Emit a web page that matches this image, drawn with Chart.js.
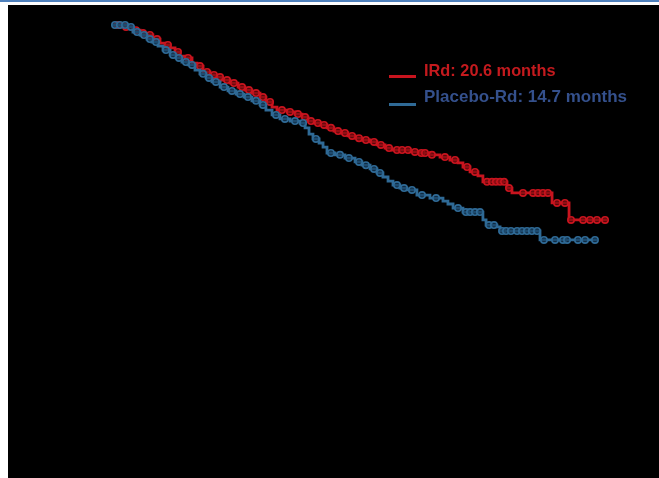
<!DOCTYPE html>
<html>
<head>
<meta charset="utf-8">
<script src="https://cdn.jsdelivr.net/npm/chart.js@4/dist/chart.umd.min.js"></script>
<style>
  html, body { margin: 0; padding: 0; background: #ffffff; }
  #wrap { position: relative; width: 659px; height: 478px; overflow: hidden; }
  #topRule { position: absolute; left: 0; top: 0; width: 659px; height: 2px; background: #4f81bd; }
  #panel { position: absolute; left: 8px; top: 5px; width: 651px; height: 473px; background: #000000; }
  #km { position: absolute; left: 0; top: 0; }
  .key { position: absolute; left: 424px; font-family: "Liberation Sans", Arial, sans-serif; font-weight: bold;
         font-size: 16.5px; line-height: 18px; white-space: nowrap; transform-origin: 0 0; }
  .swatch { position: absolute; left: 389px; width: 27px; height: 3px; }
</style>
</head>
<body>
<div id="wrap">
  <div id="topRule"></div>
  <div id="panel"></div>
  <canvas id="km" width="659" height="478"></canvas>
  <div class="swatch" style="top:75px;background:#c8141e;"></div>
  <div class="key" style="top:61px;color:#c41a1e;transform:scaleX(0.99);">IRd: 20.6 months</div>
  <div class="swatch" style="top:103px;background:#2f6a96;"></div>
  <div class="key" style="top:87px;color:#34508c;transform:scaleX(1.03);">Placebo-Rd: 14.7 months</div>
</div>
<script>
// Kaplan-Meier estimates: time in months, probability after each event.
const irdTimes = [0, 0.79, 1.27, 1.70, 2.06, 2.48, 2.91, 3.21, 3.52, 3.82, 4.12, 4.42, 4.85, 5.15, 5.52,
  5.94, 6.30, 6.67, 7.15, 7.64, 8.06, 8.48, 8.97, 9.33, 9.70, 10.00, 10.61, 11.09, 11.52, 11.88, 12.24,
  12.61, 13.03, 13.45, 13.88, 14.30, 14.73, 15.15, 15.64, 16.06, 16.55, 16.97, 18.06, 18.67, 19.27,
  19.88, 20.48, 20.97, 21.27, 21.70, 22.18, 22.48, 23.94, 24.24, 26.67, 27.70, 30.00];
const irdSurv = [1.000, 0.993, 0.981, 0.970, 0.963, 0.948, 0.933, 0.926, 0.915, 0.900, 0.885, 0.878,
  0.859, 0.848, 0.826, 0.815, 0.807, 0.796, 0.785, 0.770, 0.759, 0.748, 0.733, 0.715, 0.696, 0.685,
  0.678, 0.670, 0.659, 0.644, 0.637, 0.630, 0.619, 0.607, 0.600, 0.589, 0.581, 0.574, 0.567, 0.556,
  0.544, 0.537, 0.530, 0.526, 0.519, 0.511, 0.500, 0.489, 0.474, 0.456, 0.441, 0.419, 0.396, 0.378,
  0.341, 0.278, 0.278];
const irdCensored = [0.36, 0.85, 1.45, 1.88, 2.30, 2.73, 3.39, 4.00, 4.61, 5.33, 5.76, 6.18, 6.55, 6.97,
  7.39, 7.88, 8.30, 8.73, 9.15, 9.58, 10.30, 10.79, 11.27, 11.70, 12.06, 12.48, 12.85, 13.27, 13.70,
  14.12, 14.55, 14.97, 15.39, 15.88, 16.30, 16.79, 17.27, 17.58, 17.94, 18.36, 18.75, 18.97, 19.39,
  20.18, 20.79, 21.52, 22.00, 22.73, 23.03, 23.27, 23.52, 23.76, 24.06, 24.91, 25.52, 25.82, 26.12,
  26.42, 26.97, 27.45, 27.82, 28.55, 28.97, 29.39, 29.88];

const placeboTimes = [0, 0.97, 1.27, 1.70, 2.12, 2.42, 2.79, 3.09, 3.52, 3.88, 4.24, 4.61, 5.03, 5.33,
  5.70, 6.06, 6.55, 7.03, 7.52, 8.00, 8.48, 8.97, 9.33, 9.70, 10.18, 10.79, 11.39, 11.70, 11.94, 12.18,
  12.55, 12.79, 13.03, 13.52, 14.12, 14.73, 15.15, 15.64, 16.06, 16.42, 16.73, 17.03, 17.45, 17.88,
  18.48, 19.27, 20.06, 20.36, 20.67, 21.27, 22.48, 22.67, 23.33, 23.52, 25.94, 29.39];
const placeboSurv = [1.000, 0.993, 0.974, 0.963, 0.948, 0.937, 0.922, 0.907, 0.889, 0.878, 0.863,
  0.852, 0.833, 0.819, 0.804, 0.789, 0.770, 0.756, 0.744, 0.733, 0.719, 0.704, 0.685, 0.667, 0.652,
  0.644, 0.637, 0.619, 0.596, 0.578, 0.563, 0.548, 0.526, 0.519, 0.507, 0.493, 0.481, 0.467, 0.452,
  0.437, 0.422, 0.407, 0.396, 0.389, 0.370, 0.359, 0.348, 0.337, 0.322, 0.307, 0.278, 0.259, 0.252,
  0.237, 0.204, 0.204];
const placeboCensored = [0.18, 0.48, 0.79, 1.15, 1.52, 1.94, 2.30, 2.67, 3.27, 3.70, 4.06, 4.48, 4.85,
  5.52, 5.88, 6.30, 6.79, 7.27, 7.76, 8.24, 8.73, 9.15, 9.94, 10.48, 11.09, 11.58, 12.36, 13.27, 13.82,
  14.36, 14.97, 15.39, 15.88, 16.24, 17.27, 17.70, 18.18, 18.79, 19.64, 20.97, 21.45, 21.70, 22.00,
  22.30, 22.85, 23.15, 23.64, 23.88, 24.18, 24.55, 24.85, 25.15, 25.45, 25.76, 26.18, 26.85, 27.33,
  27.58, 28.24, 28.67, 29.27];

const RED = '#c8141e';
const BLUE = '#2f6a96';

function curvePoints(times, surv) {
  return times.map((t, i) => ({ x: t, y: surv[i] }));
}
// A censored patient sits on the curve at the estimate in force at that time.
function estimateAt(times, surv, t) {
  let s = surv[0];
  for (let i = 0; i < times.length; i++) if (times[i] <= t) s = surv[i];
  return s;
}
function censorPoints(times, surv, cens) {
  return cens.map(t => ({ x: t, y: estimateAt(times, surv, t) }));
}

const stepStyle = (color, order) => ({
  borderColor: color, borderWidth: 2.8, stepped: true, pointRadius: 0,
  fill: false, clip: false, order
});
const markStyle = (color, fillColor, order) => ({
  showLine: false, pointStyle: 'circle', pointRadius: 3.2, pointBorderWidth: 1.6,
  pointBorderColor: color, pointBackgroundColor: fillColor, clip: false, order
});

new Chart(document.getElementById('km'), {
  type: 'line',
  data: {
    datasets: [
      Object.assign({ label: 'IRd', data: curvePoints(irdTimes, irdSurv) }, stepStyle(RED, 3)),
      Object.assign({ label: 'IRd censored', data: censorPoints(irdTimes, irdSurv, irdCensored) },
        markStyle(RED, 'rgba(110,10,14,0.6)', 2)),
      Object.assign({ label: 'Placebo-Rd', data: curvePoints(placeboTimes, placeboSurv) }, stepStyle(BLUE, 1)),
      Object.assign({ label: 'Placebo-Rd censored', data: censorPoints(placeboTimes, placeboSurv, placeboCensored) },
        markStyle(BLUE, 'rgba(20,55,85,0.6)', 0))
    ]
  },
  options: {
    responsive: false,
    animation: false,
    events: [],
    layout: { padding: { left: 112, right: 52, top: 25, bottom: 183 } },
    plugins: { legend: { display: false }, tooltip: { enabled: false } },
    scales: {
      x: { type: 'linear', min: 0, max: 30, display: false },
      y: { type: 'linear', min: 0, max: 1, display: false }
    }
  }
});
</script>
</body>
</html>
